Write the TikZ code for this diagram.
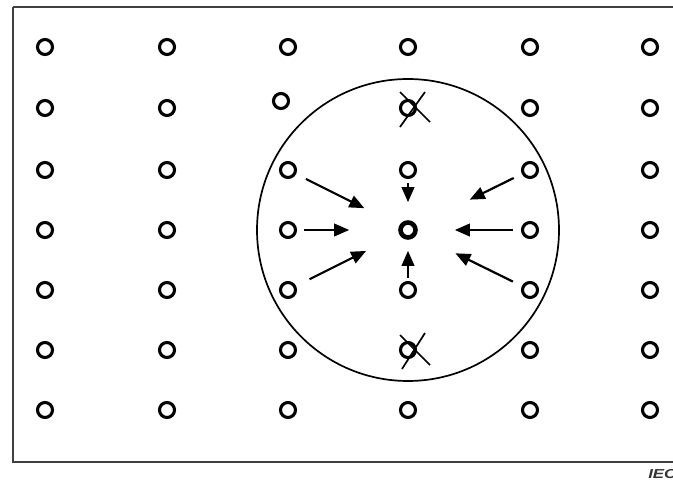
\documentclass[tikz,border=0pt]{standalone}
\usepackage{fontspec}
\setsansfont{Liberation Sans}
\usetikzlibrary{arrows.meta}
\tikzset{
  hole/.style={circle,draw,line width=3.1pt,minimum size=15pt,inner sep=0pt},
  flow/.style={line width=2.2pt,-{Triangle[length=15pt,width=12.5pt]}},
  cross/.style={line width=1.7pt}
}
\begin{document}
\begin{tikzpicture}[x=1pt,y=-1pt]
\useasboundingbox (0,0) rectangle (673,481);
\draw[line width=1.6pt,black!75] (13,7) -- (720,7) (13,7) -- (13,462) -- (720,462);
% grid of holes
\foreach \c/\x in {1/45,2/167,3/288,4/408,5/530,6/650}
  \foreach \r/\y in {1/47,2/108,3/170,4/230,5/290,6/350,7/410}{
    \ifnum\c\r=32\relax\else\ifnum\c\r=44\relax\else
      \node[hole] (p-\c-\r) at (\x,\y) {};
    \fi\fi
  }
\node[hole] (p-3-2) at (281,101) {};
\node[hole,line width=4.6pt] (p-4-4) at (408,230) {};
\draw[line width=1.7pt] (p-4-4.center) circle (151pt);
% removed holes
\draw[cross] ([shift={(-8,-16)}]p-4-2.center) -- ([shift={(22,14)}]p-4-2.center);
\draw[cross] ([shift={(17,-16)}]p-4-2.center) -- ([shift={(-8,19)}]p-4-2.center);
\draw[cross] ([shift={(-8,-15)}]p-4-6.center) -- ([shift={(22,15)}]p-4-6.center);
\draw[cross] ([shift={(17,-17)}]p-4-6.center) -- ([shift={(-6,19)}]p-4-6.center);
% flow towards the centre
\draw[flow,shorten <=11pt,shorten >=39pt] (p-3-3) -- (p-4-4);
\draw[flow,shorten <=7pt,shorten >=49pt] (p-3-4) -- (p-4-4);
\draw[flow,shorten <=15pt,shorten >=37pt] (p-3-5) -- (p-4-4);
\draw[flow,shorten <=4pt,shorten >=18pt] (p-4-3) -- (p-4-4);
\draw[flow,shorten <=3pt,shorten >=11pt] (p-4-5) -- (p-4-4);
\draw[flow,shorten <=9pt,shorten >=59pt] (p-5-3) -- (p-4-4);
\draw[flow,shorten <=8pt,shorten >=37pt] (p-5-4) -- (p-4-4);
\draw[flow,shorten <=10pt,shorten >=43pt] (p-5-5) -- (p-4-4);
\node[anchor=west,inner sep=0pt,xscale=1.3,font=\sffamily\bfseries\itshape\fontsize{13}{13}\selectfont,black!80] (iec) at (648,474) {IEC};
\end{tikzpicture}
\end{document}
